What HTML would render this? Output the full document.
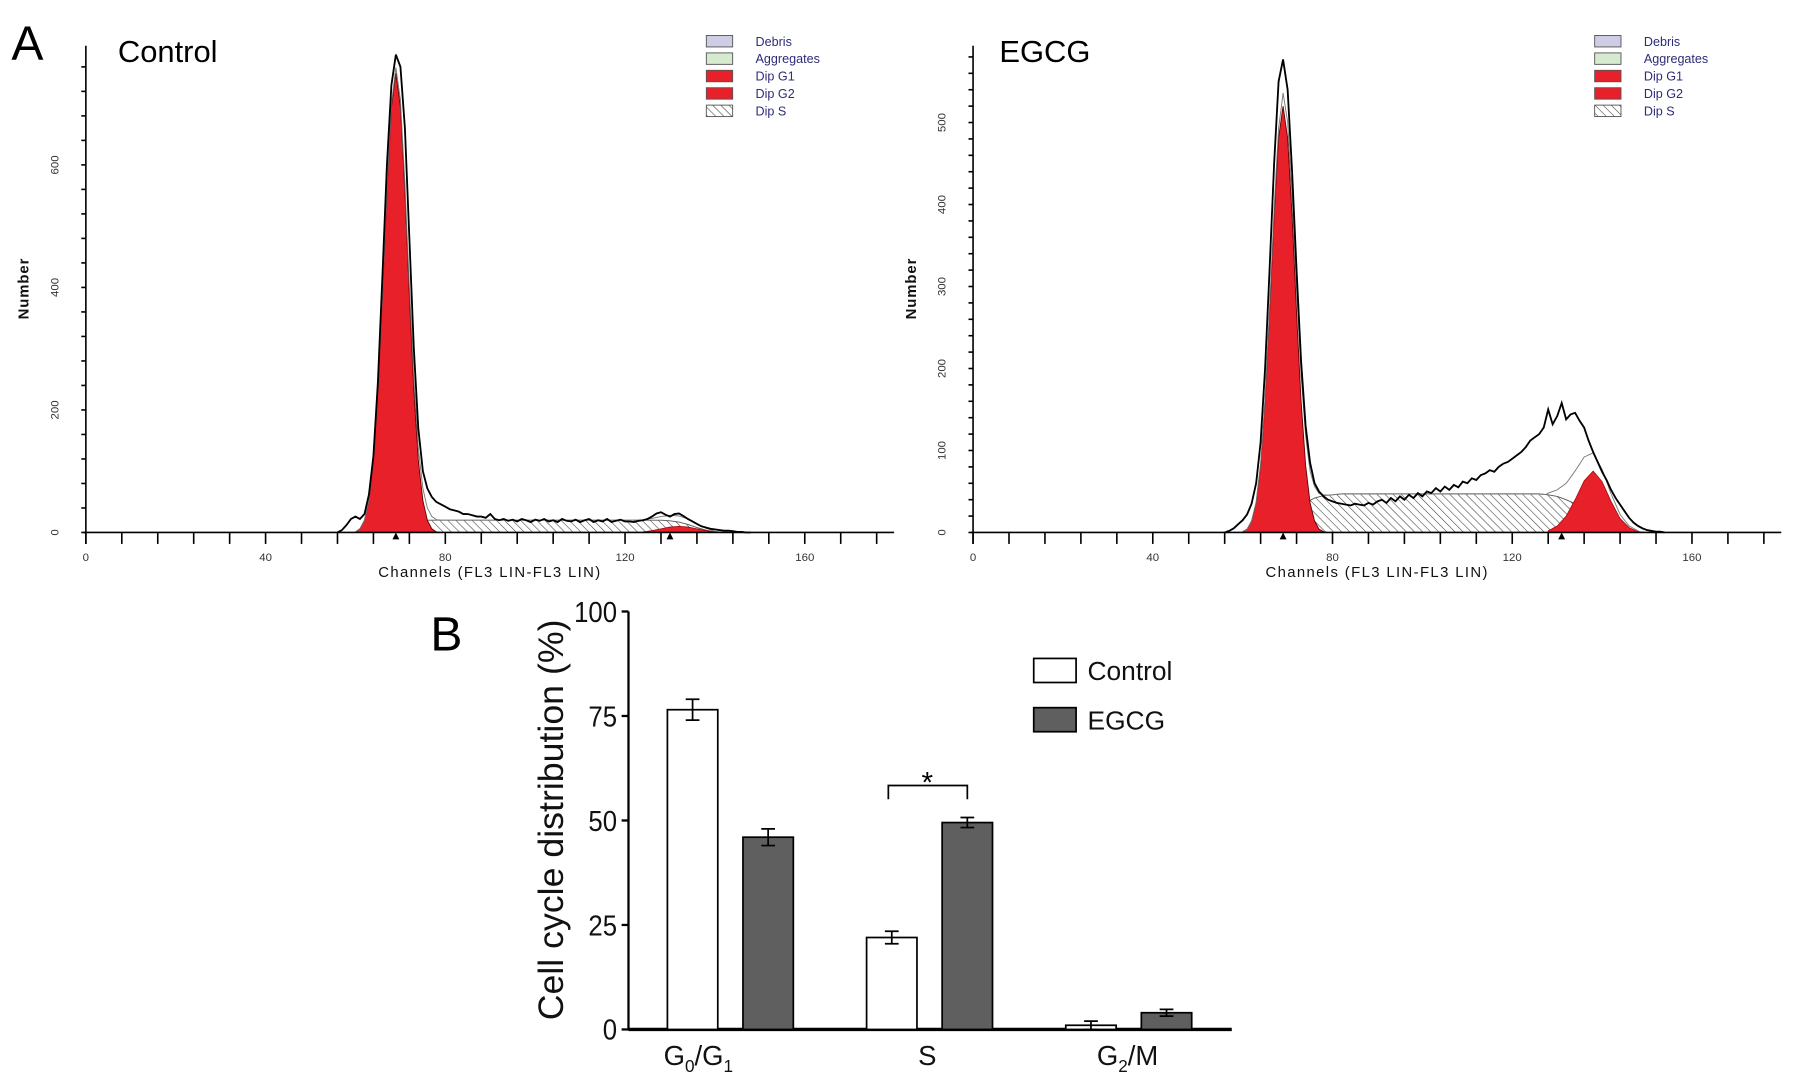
<!DOCTYPE html>
<html><head><meta charset="utf-8">
<style>
html,body{margin:0;padding:0;background:#fff;}
svg{display:block;font-family:"Liberation Sans",sans-serif;}
</style></head>
<body>
<svg id="fig" width="1795" height="1089" viewBox="0 0 1568 951" preserveAspectRatio="none" xmlns="http://www.w3.org/2000/svg">
<defs>
<pattern id="hatch" patternUnits="userSpaceOnUse" width="5" height="5" patternTransform="rotate(-45)">
<rect width="5" height="5" fill="#fff"/><line x1="0" y1="0" x2="0" y2="5" stroke="#444" stroke-width="1"/>
</pattern>
</defs>
<text x="10" y="52" font-size="42">A</text>
<text x="103" y="54" font-size="27">Control</text>
<text x="873" y="54" font-size="27">EGCG</text>
<text x="376" y="568" font-size="42">B</text>
<g id="hist"></g>
<g id="bars"></g>
</svg>
<script>
// ---------- Histogram data ----------
const ctrlRawStart = 56;
const ctrlRaw = [0,4,12,22,26,22,30,62,125,245,420,600,730,780,760,660,480,300,170,100,72,58,50,46,42,
38,36,34,30,30,28,26,26,24,30,
22,20,22,19,21,18,22,20,17,21,
19,22,18,20,17,22,19,18,21,17,
20,22,17,20,18,22,17,19,21,18,
18,17,19,20,22,26,31,33,29,26,
30,31,27,22,18,14,10,8,6,5,
4,3,3,2,1,1,0,0];
const ctrlG1Start = 60;
const ctrlG1 = [1,6,20,52,118,232,386,557,694,750,694,557,386,232,118,52,20,6,1,0,0];
const ctrlSStart = 64;
const ctrlS = [0,2,6,12,17,20,20,20,20,20,20,20,20,20,20,20,20,20,20,20,20,20,20,20,20,20,20,20,20,20,20,20,20,19,17,13,8,4,1,0];
const ctrlG2Start = 124;
const ctrlG2 = [1,3,6,9,10,9,6,3,1,0];

const egcgRawStart = 56;
const egcgRaw = [0,2,5,10,15,22,35,60,110,200,320,450,550,577,540,440,320,210,130,85,60,50,44,40,38,
36,35,34,33,35,34,33,36,34,38,
40,36,42,38,44,40,46,42,48,44,
50,48,54,50,56,52,58,55,62,60,
66,64,70,72,76,74,80,84,86,90,
94,98,104,112,116,120,128,150,132,142,
158,138,144,146,136,128,112,98,86,74,
64,52,42,34,26,18,12,8,5,3,
2,1,1,0];
const egcgG1Start = 60;
const egcgG1 = [1,4,14,36,82,161,268,386,481,520,481,386,268,161,82,36,14,4,1,0,0];
const egcgSStart = 62;
const egcgS = [0,2,6,12,20,28,36,42,45,46,47,47,47,47,47,47,47,47,47,47,47,47,47,47,47,47,47,47,47,47,47,47,47,46,44,40,35,29,22,15,9,5,2,1,0];
const egcgG2Start = 128;
const egcgG2 = [2,8,20,40,63,75,62,38,17,6,1];

const xTicks = [0,40,80,120,160];
const ctrlYTicks = [0,200,400,600];
const egcgYTicks = [0,100,200,300,400,500];
const legendItems = ["Debris","Aggregates","Dip G1","Dip G2","Dip S"];
const legendFills = ["#cfcce6","#d6ead0","#e8202a","#e8202a","url(#hatch)"];

// ---------- Bar data ----------
const phases = ["G0/G1","S","G2/M"];
const controlVals = [76.5,22,1];
const controlErr = [2.5,1.5,1];
const egcgVals = [46,49.5,4];
const egcgErr = [2,1.2,0.8];
const barYTicks = [0,25,50,75,100];

const NS = "http://www.w3.org/2000/svg";
function mk(tag, attrs, parent){const e=document.createElementNS(NS,tag);for(const k in attrs)e.setAttribute(k,attrs[k]);parent.appendChild(e);return e;}

function valAt(arr,start,step,ch){
  const i=(ch-start)/step; if(i<0||i>arr.length-1) return 0;
  const i0=Math.floor(i), f=i-i0; const a=arr[i0], b=arr[Math.min(i0+1,arr.length-1)]; return a+(b-a)*f;
}

function drawHist(p){
  const g=document.getElementById('hist');
  const panel=mk('g',{},g);
  
  
  const X=ch=>p.x0+ch*3.925;
  const Y=v=>465-v*p.py;
  let d='M'+X(p.sStart)+','+Y(0);
  p.s.forEach((v,i)=>{d+=' L'+X(p.sStart+i*2).toFixed(1)+','+Y(v).toFixed(1);});
  d+=' L'+X(p.sStart+(p.s.length-1)*2)+','+Y(0)+'Z';
  const sp=mk('path',{d:d,fill:'url(#hatch)',stroke:'#555','stroke-width':0.8},panel);
  
  
  d='M'+X(p.g2Start)+','+Y(0);
  p.g2.forEach((v,i)=>{d+=' L'+X(p.g2Start+i*p.g2Step).toFixed(1)+','+Y(v).toFixed(1);});
  d+=' L'+X(p.g2Start+(p.g2.length-1)*p.g2Step)+','+Y(0)+'Z';
  const g2p=mk('path',{d:d,fill:'#e8202a',stroke:'#900','stroke-width':0.6},panel);
  
  
  d='M'+X(p.g1Start)+','+Y(0);
  p.g1.forEach((v,i)=>{d+=' L'+X(p.g1Start+i).toFixed(1)+','+Y(v).toFixed(1);});
  d+=' L'+X(p.g1Start+p.g1.length-1)+','+Y(0)+'Z';
  const g1p=mk('path',{d:d,fill:'#e8202a',stroke:'#600','stroke-width':0.8},panel);
  
  
  d='';
  for(let ch=p.g1Start; ch<=150; ch+=0.5){
    const v=valAt(p.g1,p.g1Start,1,ch)+valAt(p.s,p.sStart,2,ch)+valAt(p.g2,p.g2Start,p.g2Step,ch);
    d+=(d?' L':'M')+X(ch).toFixed(1)+','+Y(v).toFixed(1);
  }
  const env=mk('path',{d:d,fill:'none',stroke:'#777','stroke-width':0.8},panel);
  
  
  d='';
  p.raw.forEach((v,i)=>{d+=(i?' L':'M')+X(p.rawStart+i).toFixed(1)+','+Y(v).toFixed(1);});
  const raw=mk('path',{d:d,fill:'none',stroke:'#000','stroke-width':1.6},panel);
  
  
  const ax=mk('g',{stroke:'#000','stroke-width':1.4},panel);
  
  
  mk('line',{x1:p.x0,y1:40,x2:p.x0,y2:475},ax);
  mk('line',{x1:p.x0-2,y1:465,x2:p.x0+706,y2:465},ax);
  for(let ch=0; ch<=176; ch+=8){mk('line',{x1:X(ch),y1:465,x2:X(ch),y2:475},ax);}
  for(let v=0; Y(v)>=42; v+=p.minor){mk('line',{x1:p.x0-4,y1:Y(v),x2:p.x0,y2:Y(v)},ax);}
  xTicks.forEach(t=>{
    const tx=mk('text',{x:X(t),y:490,'font-size':10,'text-anchor':'middle',fill:'#333'},panel);
    tx.textContent=t;
    
    
  });
  p.yTicks.forEach(t=>{
    const ty=mk('text',{x:p.x0-24,y:Y(t),'font-size':10,'text-anchor':'middle',fill:'#333',transform:'rotate(-90 '+(p.x0-24)+' '+Y(t)+')'},panel);
    ty.textContent=t;
    
    
  });
  [69,p.tri2].forEach(c=>{mk('path',{d:'M'+(X(c)-3)+',471 L'+(X(c)+3)+',471 L'+X(c)+',465Z',fill:'#000'},panel);});
  const xt=mk('text',{x:p.x0+353,y:504,'font-size':13,'text-anchor':'middle','letter-spacing':'1.2',fill:'#111'},panel);
  xt.textContent='Channels (FL3 LIN-FL3 LIN)';
  
  
  const yt=mk('text',{x:p.x0-50,y:252,'font-size':13,'text-anchor':'middle','font-weight':'bold','letter-spacing':'0.8',fill:'#111',transform:'rotate(-90 '+(p.x0-50)+' 252)'},panel);
  yt.textContent='Number';
  
  
  legendItems.forEach((t,i)=>{
    const le=mk('g',{},panel);
    
    
    mk('rect',{x:p.lx,y:31+i*15.2,width:23,height:10,fill:legendFills[i],stroke:'#555','stroke-width':0.8},le);
    const tt=mk('text',{x:p.lx+43,y:40+i*15.2,'font-size':11,fill:'#2c2c7a'},le);
    tt.textContent=t;
  });
}
drawHist({name:'control',x0:75,py:0.535,minor:40,yTicks:ctrlYTicks,raw:ctrlRaw,rawStart:ctrlRawStart,g1:ctrlG1,g1Start:ctrlG1Start,s:ctrlS,sStart:ctrlSStart,g2:ctrlG2,g2Start:ctrlG2Start,g2Step:2,tri2:130,lx:617});
drawHist({name:'egcg',x0:850,py:0.716,minor:20,yTicks:egcgYTicks,raw:egcgRaw,rawStart:egcgRawStart,g1:egcgG1,g1Start:egcgG1Start,s:egcgS,sStart:egcgSStart,g2:egcgG2,g2Start:egcgG2Start,g2Step:2,tri2:131,lx:1393});

// ---------- Bar chart ----------
(function(){
  const g=document.getElementById('bars');
  const x0=549, yb=899, ppv=3.65;
  const Y=v=>yb-v*ppv;
  const groupCenters=i=>637+i*174;
  const ax=mk('g',{stroke:'#000'},g);
  
  
  mk('line',{x1:x0,y1:Y(100),x2:x0,y2:yb,'stroke-width':2},ax);
  mk('line',{x1:x0,y1:yb,x2:1076,y2:yb,'stroke-width':3},ax);
  barYTicks.forEach(t=>{
    mk('line',{x1:x0-6,y1:Y(t),x2:x0,y2:Y(t),'stroke-width':2},ax);
    const tx=mk('text',{x:x0-10,y:Y(t)+9,'font-size':25,'text-anchor':'end',fill:'#111',textLength:String(t).length*12.5,lengthAdjust:'spacingAndGlyphs'},g);
    tx.textContent=t;
    
    
  });
  const yt=mk('text',{x:492,y:716,'font-size':31,'text-anchor':'middle',fill:'#111',textLength:350,lengthAdjust:'spacingAndGlyphs',transform:'rotate(-90 492 716)'},g);
  yt.textContent='Cell cycle distribution (%)';
  
  
  phases.forEach((ph,i)=>{
    const cx=groupCenters(i);
    [[controlVals,controlErr,'#fff',-32,'control'],[egcgVals,egcgErr,'#5f5f5f',34,'egcg']].forEach(s=>{
      const v=s[0][i], e=s[1][i], bx=cx+s[3]-22;
      const r=mk('rect',{x:bx,y:Y(v),width:44,height:v*ppv,fill:s[2],stroke:'#000','stroke-width':1.5},g);
      
      
      const eb=mk('path',{d:'M'+(bx+22)+','+Y(v+e)+' V'+Y(v-e)+' M'+(bx+16)+','+Y(v+e)+' H'+(bx+28)+' M'+(bx+16)+','+Y(v-e)+' H'+(bx+28),stroke:'#000','stroke-width':1.5,fill:'none'},g);
      
      
    });
  });
  const labels=[['G','0','/G','1'],['S'],['G','2','/M']];
  labels.forEach((parts,i)=>{
    const t=mk('text',{x:[610,810,985][i],y:930,'font-size':24,'text-anchor':'middle',fill:'#111'},g);
    
    
    parts.forEach((p,k)=>{const ts=mk('tspan',{},t);ts.textContent=p;
      if(p==='0'||p==='1'||p==='2'){ts.setAttribute('font-size',15);ts.setAttribute('dy',6);}
      else if(k>0){ts.setAttribute('dy',-6);}});
  });
  const br=mk('path',{d:'M776,698 V686 H845 V698',stroke:'#000','stroke-width':1.5,fill:'none'},g);
  
  
  const st=mk('text',{x:810,y:692,'font-size':26,'text-anchor':'middle',fill:'#000'},g);
  st.textContent='*';
  
  
  [['Control','#fff',575],['EGCG','#5f5f5f',618]].forEach(l=>{
    const le=mk('g',{},g);
    
    
    mk('rect',{x:903,y:l[2],width:37,height:21,fill:l[1],stroke:'#000','stroke-width':1.5},le);
    const t=mk('text',{x:950,y:l[2]+19,'font-size':23,fill:'#111'},le);
    t.textContent=l[0];
  });
})();
</script>
</body></html>
